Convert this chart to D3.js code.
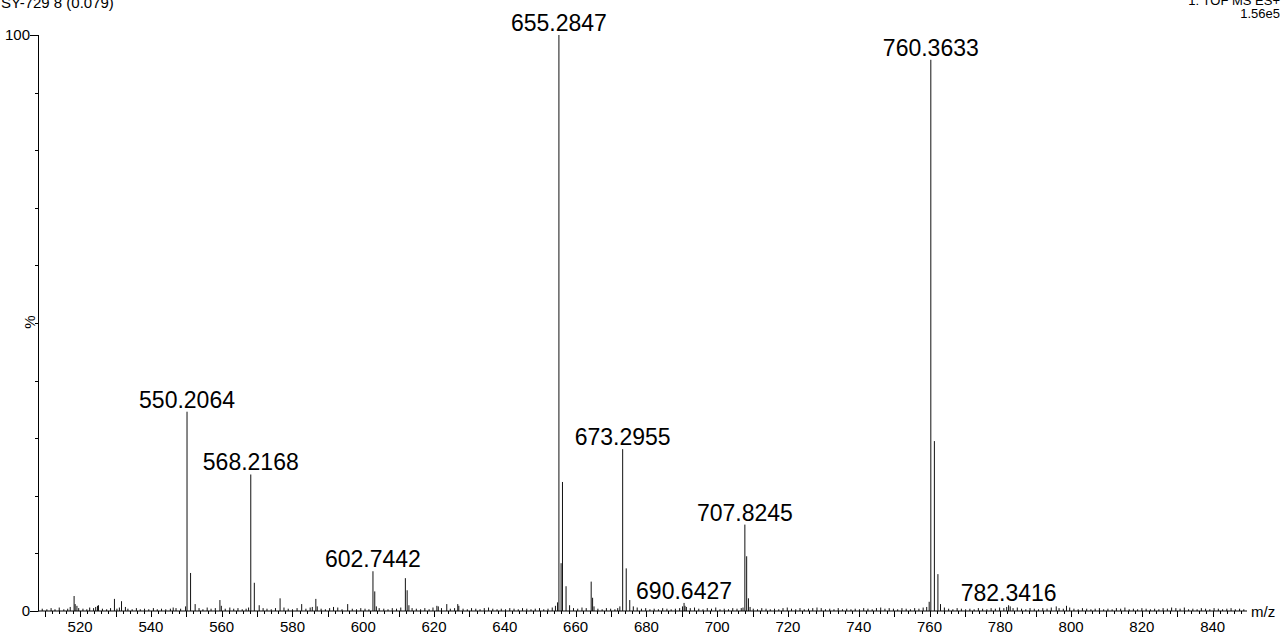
<!DOCTYPE html>
<html>
<head>
<meta charset="utf-8">
<script src="https://cdn.jsdelivr.net/npm/d3@7"></script>
<style>
  html, body { margin: 0; padding: 0; background: #fff; }
  svg { display: block; font-family: "Liberation Sans", Arial, sans-serif; }
</style>
</head>
<body>
<svg id="chart" width="1282" height="635"></svg>
<script>
// ---- data ----
const headerLeft = "SY-729 8 (0.079)";
const headerRight1 = "1: TOF MS ES+";
const headerRight2 = "1.56e5";
const xTickLabels = [520, 540, 560, 580, 600, 620, 640, 660, 680, 700, 720, 740, 760, 780, 800, 820, 840];
const yTickLabels = [0, 100];

// labelled peaks: m/z and relative intensity (%)
const labelledMz = [550.2064, 568.2168, 602.7442, 655.2847, 673.2955, 690.6427, 707.8245, 760.3633, 782.3416];
const labelledInt = [34.6, 23.7, 6.9, 100, 28.1, 1.4, 15.0, 95.7, 1.0];

// other visible peaks [m/z, %]
const minorPeaks = [
  [518.3,2.6],[518.6,1.2],[524.9,0.9],[525.2,1.0],[529.7,2.1],[531.7,1.7],[532.8,0.7],[549.8,0.8],
  [551.21,6.6],[552.5,1.2],[559.5,1.9],[559.9,0.9],[569.22,4.9],[570.6,1.0],[576.5,2.2],[582.6,1.2],
  [586.6,2.1],[587.0,0.8],[595.6,1.2],[603.25,3.4],[603.7,0.8],[611.9,5.7],[612.4,3.6],[612.9,1.0],
  [620.8,0.9],[621.2,0.8],[623.6,1.2],[626.7,1.2],[627.0,0.9],[654.9,1.5],[655.9,8.3],[656.29,22.4],
  [657.3,4.3],[658.3,1.0],[664.4,5.1],[664.8,2.3],[665.2,0.8],[672.5,0.8],[674.3,7.4],[675.3,1.9],
  [676.3,0.8],[690.9,0.9],[691.3,0.7],[708.33,9.5],[708.83,2.2],[709.3,0.7],[759.9,1.6],[761.37,29.5],
  [762.37,6.4],[763.1,1.2],[782.8,0.8],[795.8,0.8],[798.7,0.9]
];

// baseline noise [m/z, %]
const noisePeaks = [
  [509.3,.4],[510.6,.3],[511.8,.5],[512.9,.3],[514.1,.6],[515.4,.3],[516.5,.4],[517.2,.7],[519.1,.9],[519.6,.5],
  [520.8,.4],[521.9,.3],[522.7,.6],[523.8,.5],[524.4,.7],[526.3,.4],[527.5,.3],[528.6,.5],[530.4,.4],[531.1,.6],
  [533.5,.4],[534.7,.3],[535.9,.5],[537.0,.3],[538.2,.4],[539.4,.3],[540.7,.5],[541.8,.3],[543.0,.4],[544.2,.3],
  [545.5,.4],[546.3,.6],[547.1,.5],[548.4,.4],[553.6,.5],[554.7,.3],[555.9,.6],[557.0,.4],[558.2,.5],[561.0,.4],
  [562.3,.6],[563.4,.4],[564.6,.5],[565.8,.3],[566.9,.4],[567.6,.6],[571.7,.5],[572.8,.4],[574.0,.3],[575.2,.5],
  [577.6,.6],[578.8,.4],[580.0,.3],[581.3,.5],[583.8,.4],[585.0,.6],[585.6,.7],[588.1,.4],[589.3,.3],[590.5,.5],
  [591.6,.7],[592.8,.6],[594.0,.3],[596.9,.4],[598.1,.3],[599.3,.5],[600.5,.4],[601.6,.3],[604.5,.5],[605.8,.4],
  [607.0,.3],[608.2,.5],[609.4,.4],[610.6,.6],[613.8,.5],[615.0,.4],[616.2,.3],[617.4,.5],[618.6,.3],[619.7,.6],
  [622.1,.5],[624.6,.4],[625.8,.5],[628.2,.4],[629.4,.3],[630.6,.5],[631.8,.4],[633.0,.3],[634.2,.5],[635.4,.6],
  [636.6,.4],[637.8,.3],[639.0,.4],[640.2,.3],[641.4,.5],[642.6,.4],[643.8,.3],[645.0,.5],[646.2,.4],[647.4,.3],
  [648.6,.4],[649.8,.5],[651.0,.3],[652.2,.4],[653.4,.6],[654.3,.9],[659.4,.5],[660.6,.4],[661.8,.6],[663.0,.5],
  [666.3,.4],[667.5,.3],[668.7,.5],[669.9,.4],[671.1,.3],[671.9,.5],[677.4,.6],[678.6,.4],[679.8,.5],[681.0,.3],
  [682.2,.4],[683.4,.3],[684.6,.5],[685.8,.4],[687.0,.3],[688.2,.4],[689.4,.5],[690.2,.8],[692.4,.5],[693.6,.6],
  [694.8,.4],[696.0,.3],[697.2,.5],[698.4,.4],[699.6,.6],[700.8,.3],[702.0,.4],[703.2,.3],[704.4,.5],[705.6,.4],
  [706.8,.5],[707.3,.6],[710.2,.4],[711.4,.3],[712.6,.5],[713.8,.4],[715.0,.3],[716.2,.4],[717.4,.3],[718.6,.5],
  [719.8,.6],[721.0,.4],[722.2,.3],[723.4,.5],[724.6,.3],[725.8,.4],[727.0,.5],[728.2,.6],[729.4,.5],[730.6,.3],
  [731.8,.4],[733.0,.3],[734.2,.5],[735.4,.3],[736.6,.4],[737.8,.3],[739.0,.4],[740.2,.3],[741.4,.5],[742.6,.4],
  [743.8,.3],[745.0,.5],[746.2,.6],[747.4,.4],[748.6,.5],[749.8,.4],[751.0,.3],[752.2,.5],[753.4,.4],[754.6,.3],
  [755.8,.5],[757.0,.4],[758.2,.6],[759.2,.7],[764.2,.6],[765.4,.4],[766.6,.3],[767.8,.5],[769.0,.4],[770.2,.3],
  [771.4,.4],[772.6,.3],[773.8,.5],[775.0,.4],[776.2,.3],[777.4,.5],[778.6,.4],[779.8,.6],[781.0,.5],[781.8,.7],
  [783.6,.5],[784.8,.6],[786.0,.4],[787.2,.3],[788.4,.5],[789.6,.4],[790.8,.3],[792.0,.5],[793.2,.4],[794.4,.6],
  [796.6,.5],[797.8,.4],[799.6,.6],[800.8,.4],[802.0,.3],[803.2,.5],[804.4,.4],[805.6,.3],[806.8,.4],[808.0,.5],
  [809.2,.3],[810.4,.4],[811.6,.3],[812.8,.5],[814.0,.4],[815.2,.6],[816.4,.3],[817.6,.4],[818.8,.3],[820.0,.5],
  [821.2,.4],[822.4,.3],[823.6,.4],[824.8,.3],[826.0,.5],[827.2,.4],[828.4,.6],[829.6,.5],[830.8,.4],[832.0,.6],
  [833.2,.3],[834.4,.4],[835.6,.3],[836.8,.5],[838.0,.4],[839.2,.3],[840.4,.5],[841.6,.4],[842.8,.3],[844.0,.4],
  [845.2,.5],[846.4,.3],[847.6,.4],[848.8,.3]
];

// ---- drawing ----
const svg = d3.select("#chart");
const x = d3.scaleLinear().domain([508.1, 849.7]).range([38, 1247]);
const y = d3.scaleLinear().domain([0, 100]).range([611, 35]);

// header texts
svg.append("text").attr("x", 1).attr("y", 8).attr("font-size", 15).attr("fill", "#000").text(headerLeft);
svg.append("text").attr("x", 1280).attr("y", 5).attr("font-size", 13).attr("text-anchor", "end").text(headerRight1);
svg.append("text").attr("x", 1280).attr("y", 18).attr("font-size", 13).attr("text-anchor", "end").text(headerRight2);

// peaks
const allPeaks = noisePeaks.concat(minorPeaks).concat(labelledMz.map((m, i) => [m, labelledInt[i]]));
svg.append("g").selectAll("line").data(allPeaks).join("line")
  .attr("x1", d => x(d[0])).attr("x2", d => x(d[0]))
  .attr("y1", y(0)).attr("y2", d => y(d[1]))
  .attr("stroke", "#111").attr("stroke-width", 1);

// x axis
const xMinor = d3.range(510, 850, 2);
const xMajor = d3.range(510, 850, 10);
const gx = svg.append("g");
gx.append("line").attr("x1", 38).attr("x2", 1247).attr("y1", y(0)).attr("y2", y(0)).attr("stroke", "#000");
gx.selectAll("line.minor").data(xMinor).join("line").attr("class", "minor")
  .attr("x1", d => Math.round(x(d)) + 0.5).attr("x2", d => Math.round(x(d)) + 0.5)
  .attr("y1", y(0)).attr("y2", y(0) + 3).attr("stroke", "#000");
gx.selectAll("line.major").data(xMajor).join("line").attr("class", "major")
  .attr("x1", d => Math.round(x(d)) + 0.5).attr("x2", d => Math.round(x(d)) + 0.5)
  .attr("y1", y(0)).attr("y2", y(0) + 6).attr("stroke", "#000");
gx.selectAll("text").data(xTickLabels).join("text")
  .attr("x", d => x(d)).attr("y", 632).attr("text-anchor", "middle").attr("font-size", 15).text(d => d);
svg.append("text").attr("x", 1251).attr("y", 617).attr("font-size", 15).text("m/z");

// y axis
const gy = svg.append("g");
gy.append("line").attr("x1", 38.5).attr("x2", 38.5).attr("y1", y(100)).attr("y2", y(0)).attr("stroke", "#000");
gy.selectAll("line.minor").data(d3.range(10, 100, 10)).join("line").attr("class", "minor")
  .attr("x1", 35).attr("x2", 38.5).attr("y1", d => Math.round(y(d)) + 0.5).attr("y2", d => Math.round(y(d)) + 0.5)
  .attr("stroke", "#000");
gy.selectAll("line.major").data(yTickLabels).join("line").attr("class", "major")
  .attr("x1", 30).attr("x2", 38.5).attr("y1", d => Math.round(y(d)) + 0.5).attr("y2", d => Math.round(y(d)) + 0.5)
  .attr("stroke", "#000");
gy.selectAll("text").data(yTickLabels).join("text")
  .attr("x", 30).attr("y", d => y(d) + 5).attr("text-anchor", "end").attr("font-size", 15).text(d => d);
svg.append("text").attr("transform", "translate(35,322) rotate(-90)").attr("text-anchor", "middle")
  .attr("font-size", 15).text("%");

// peak labels
const lab = svg.append("g").selectAll("g").data(labelledMz.map((m, i) => [m, labelledInt[i]])).join("g");
lab.append("text")
  .attr("x", d => x(d[0])).attr("y", d => y(d[1]) - 4)
  .attr("text-anchor", "middle").attr("font-size", 23).attr("fill", "#000")
  .text(d => d[0].toFixed(4));
</script>
</body>
</html>
